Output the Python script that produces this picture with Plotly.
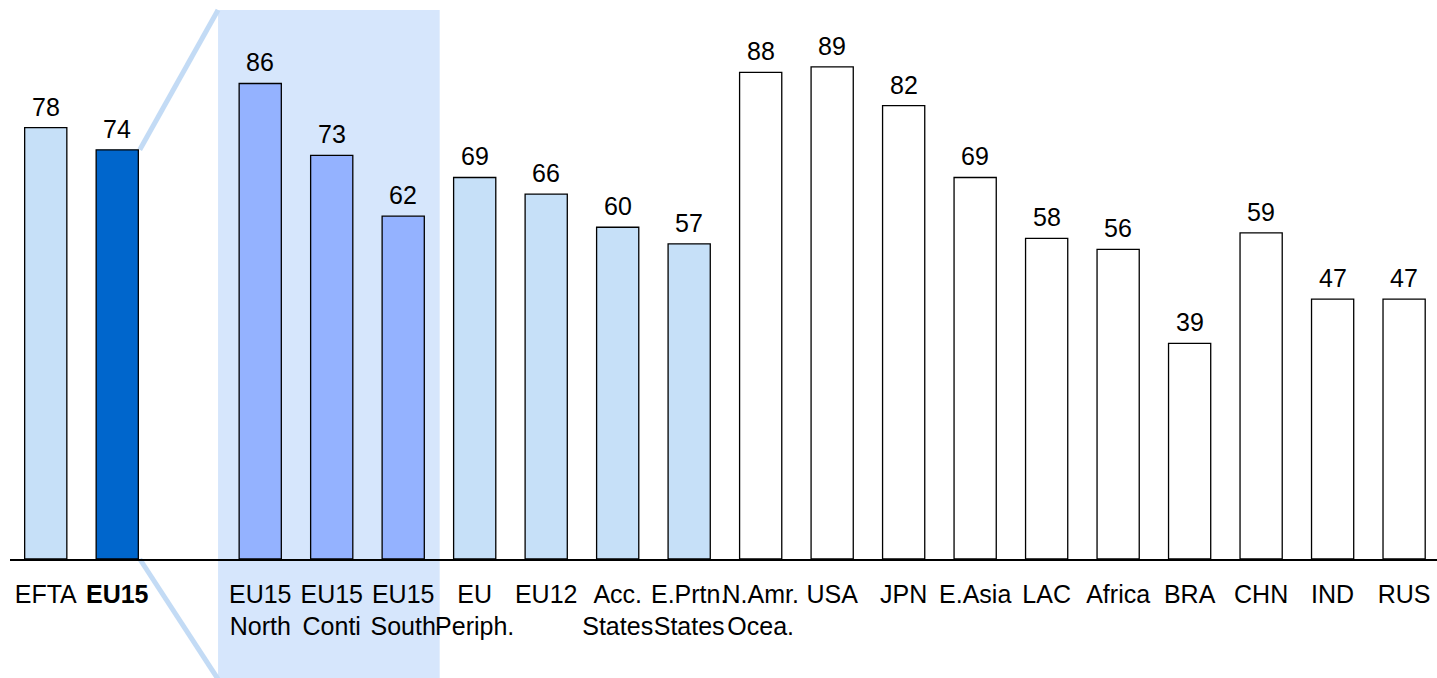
import plotly.graph_objects as go

# Category labels (an empty slot separates EU15 from its breakdown)
labels = ["EFTA", "<b>EU15</b>", "", "EU15<br>North", "EU15<br>Conti", "EU15<br>South",
          "EU<br>Periph.", "EU12", "Acc.<br>States", "E.Prtn.<br>States", "N.Amr.<br>Ocea.",
          "USA", "JPN", "E.Asia", "LAC", "Africa", "BRA", "CHN", "IND", "RUS"]
values = [78, 74, None, 86, 73, 62, 69, 66, 60, 57, 88, 89, 82, 69, 58, 56, 39, 59, 47, 47]
groups = ["light", "dark", None, "mid", "mid", "mid", "light", "light", "light", "light",
          "white", "white", "white", "white", "white", "white", "white", "white", "white", "white"]

palette = {"light": "#C6E0F8", "dark": "#0066CC", "mid": "#94B2FF", "white": "#FFFFFF", None: "#FFFFFF"}

W, H = 1437, 678
BAR_W = 0.59
Y_MAX = 101.1
FONT = "Liberation Sans, Arial, sans-serif"
FS = 25

idx = [i for i, v in enumerate(values) if v is not None]
xs = idx
ys = [values[i] for i in idx]
cols = [palette[groups[i]] for i in idx]

fig = go.Figure()
fig.add_trace(go.Bar(
    x=xs, y=ys, width=BAR_W,
    marker=dict(color=cols, line=dict(color="#000000", width=1.3)),
    cliponaxis=False, hoverinfo="skip",
))

# Value labels above each bar
for x, v in zip(xs, ys):
    fig.add_annotation(x=x, y=v, xref="x", yref="y", text=str(v), showarrow=False,
                       yanchor="bottom", yshift=5,
                       font=dict(size=FS, color="#000000", family=FONT))

# Zoom panel behind the EU15 breakdown
i_eu15 = labels.index("<b>EU15</b>")
i_north = 3
i_south = 5
rx0 = i_north - 0.59
rx1 = i_south + 0.51
ry_top = 0.982
ry_bot = -0.215
shapes = [
    dict(type="rect", xref="x", yref="paper", x0=rx0, x1=rx1, y0=ry_bot, y1=ry_top,
         fillcolor="#D6E6FC", line=dict(width=0), layer="below"),
    dict(type="line", xref="x", yref="paper", x0=i_eu15 + BAR_W / 2 + 0.02, y0=values[i_eu15] / Y_MAX,
         x1=rx0, y1=ry_top, line=dict(color="#C3DBF5", width=5), layer="below"),
    dict(type="line", xref="x", yref="paper", x0=i_eu15 + BAR_W / 2 + 0.02, y0=0,
         x1=rx0, y1=ry_bot, line=dict(color="#C3DBF5", width=5), layer="below"),
]

tickvals = [i for i, t in enumerate(labels) if t]
ticktext = [labels[i] for i in tickvals]

fig.update_layout(
    width=W, height=H,
    margin=dict(l=10, r=0, t=0, b=119),
    paper_bgcolor="#FFFFFF", plot_bgcolor="rgba(0,0,0,0)",
    showlegend=False, shapes=shapes,
    font=dict(family=FONT, color="#000000"),
    xaxis=dict(range=[-0.5, 19.46], tickvals=tickvals, ticktext=ticktext, tickangle=0,
               tickfont=dict(size=FS, family=FONT, color="#000000"),
               showline=True, linecolor="#000000", linewidth=1.5,
               showgrid=False, zeroline=False, ticks="", ticklabelstandoff=12),
    yaxis=dict(range=[0, Y_MAX], visible=False, showgrid=False, zeroline=False),
)

fig.write_html("out.html")
